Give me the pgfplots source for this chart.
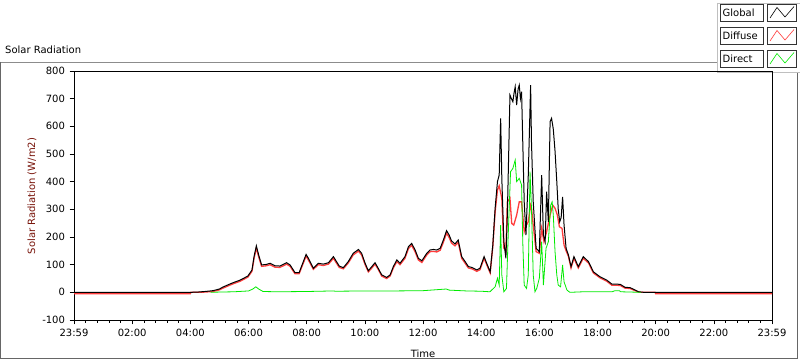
\documentclass[border=0pt]{standalone}
\usepackage{pgfplots}
\usepackage{pgfplotstable}
\pgfplotsset{compat=1.18}
\usepackage{fontspec}
\setmainfont{DejaVu Sans}
\definecolor{lvred}{RGB}{255,60,60}
\definecolor{lvgreen}{RGB}{0,235,0}
\definecolor{ylab}{RGB}{120,20,10}
\pgfplotstableread{
h v
0 0
4.0 0
4.26 1
4.5 3
4.78 6
5.0 12
5.12 19
5.36 30
5.5 36
5.71 44
5.98 59
6.12 81
6.19 129
6.27 168
6.35 135
6.45 99
6.62 101
6.74 105
6.91 96
7.08 95
7.31 107
7.43 99
7.60 71
7.74 71
7.98 137
8.06 123
8.23 87
8.40 105
8.57 102
8.75 107
8.92 129
9.12 95
9.26 89
9.43 111
9.60 141
9.78 155
9.89 141
10.01 105
10.12 78
10.24 93
10.35 107
10.46 87
10.58 63
10.75 54
10.87 63
10.98 93
11.10 117
11.21 105
11.38 129
11.50 165
11.61 177
11.73 153
11.84 123
11.96 114
12.13 141
12.24 153
12.36 155
12.47 153
12.59 159
12.70 189
12.81 223
12.90 207
12.98 186
13.10 175
13.21 189
13.33 129
13.45 111
13.56 93
13.68 90
13.85 81
13.96 87
14.10 129
14.19 105
14.31 74
14.40 171
14.48 304
14.56 400
14.62 424
14.67 629
14.71 412
14.78 183
14.85 123
14.90 279
14.99 713
15.04 700
15.09 689
15.13 720
15.17 743
15.22 677
15.27 735
15.31 749
15.35 700
15.39 725
15.43 544
15.48 327
15.54 207
15.62 424
15.70 749
15.73 544
15.79 327
15.89 159
16.00 147
16.08 424
16.14 207
16.20 183
16.25 364
16.31 255
16.37 617
16.42 629
16.48 590
16.54 510
16.60 400
16.65 300
16.70 255
16.75 270
16.80 345
16.85 243
16.92 159
17.00 135
17.09 93
17.19 129
17.34 93
17.51 129
17.69 111
17.86 74
18.09 56
18.32 44
18.49 30
18.78 29
18.95 18
19.12 17
19.18 14
19.41 2
19.60 0
24 0
}\globaltab
\pgfplotstableread{
h v
0 -5
4.0 -5
4.02 0
4.26 0
4.5 1
4.78 3
5.0 9
5.12 15
5.36 26
5.5 32
5.71 40
5.98 55
6.12 76
6.19 122
6.27 160
6.35 128
6.45 94
6.62 96
6.74 100
6.91 91
7.08 90
7.31 102
7.43 94
7.60 67
7.74 67
7.98 131
8.06 117
8.23 83
8.40 100
8.57 97
8.75 102
8.92 123
9.12 90
9.26 85
9.43 106
9.60 135
9.78 149
9.89 135
10.01 100
10.12 74
10.24 88
10.35 102
10.46 83
10.58 59
10.75 50
10.87 59
10.98 88
11.10 111
11.21 100
11.38 123
11.50 158
11.61 170
11.73 146
11.84 117
11.96 108
12.13 135
12.24 147
12.36 148
12.47 146
12.59 152
12.70 181
12.81 214
12.90 198
12.98 178
13.10 168
13.21 181
13.33 123
13.45 105
13.56 88
13.68 85
13.85 76
13.96 82
14.10 123
14.19 100
14.31 70
14.40 165
14.48 290
14.56 370
14.62 385
14.67 360
14.71 340
14.78 160
14.85 150
14.90 327
14.99 340
15.05 249
15.12 243
15.22 279
15.31 327
15.39 327
15.43 279
15.48 219
15.54 240
15.62 255
15.70 315
15.73 304
15.79 243
15.89 147
16.00 141
16.08 231
16.16 183
16.25 219
16.37 279
16.46 315
16.54 304
16.62 279
16.69 237
16.78 231
16.85 171
16.92 150
17.00 130
17.09 88
17.19 123
17.34 88
17.51 123
17.69 106
17.86 70
18.09 52
18.32 40
18.49 26
18.78 25
18.95 15
19.12 14
19.18 11
19.41 1
19.60 0
19.98 0
20.00 -5
24 -5
}\diffusetab
\pgfplotstableread{
h v
4.70 0
5.0 1
5.5 2
6.0 5
6.15 12
6.25 20
6.35 12
6.5 3
7.0 2
8.0 3
8.9 5
9.0 4
10.0 5
11.0 5
12.0 6
12.8 12
12.9 8
13.5 5
14.0 4
14.3 2
14.48 20
14.56 51
14.62 26
14.67 243
14.71 63
14.78 2
14.87 14
14.93 207
15.01 436
15.09 448
15.17 478
15.22 400
15.31 412
15.39 388
15.43 183
15.48 26
15.56 14
15.62 63
15.68 436
15.73 304
15.79 63
15.85 2
15.91 14
16.00 51
16.08 183
16.14 26
16.23 159
16.31 183
16.39 315
16.44 327
16.48 279
16.54 147
16.60 63
16.65 26
16.73 20
16.80 99
16.85 38
16.95 8
17.05 0
17.5 2
18.0 2
18.5 2
18.6 6
18.75 6
18.8 2
19.5 0
}\directtab
\begin{document}
\fontsize{10}{12}\selectfont
\begin{tikzpicture}[x=1pt,y=1pt]
\path[use as bounding box] (0,0) rectangle (800,361);
\fill[white] (0,0) rectangle (800,361);
% outer frame
\draw[black!45, line width=0.8pt] (0.5,299) -- (717,299);
\draw[black!60, line width=1pt] (0.5,299) -- (0.5,2) -- (797,2) -- (797,289);
% legend frame
\draw[black!25, line width=0.8pt] (717,358) -- (717,289) -- (800,289);
\draw[black!25, line width=0.8pt] (717,358) -- (800,358);
\node[anchor=west, inner sep=0pt] at (5,311) {Solar Radiation};
% legend entries
\foreach \yt/\lab/\col in {4/Global/black, 27/Diffuse/lvred, 50/Direct/lvgreen}{
  \draw[black!80, line width=0.7pt] (720.5,361-\yt) rectangle (763.5,361-\yt-17);
  \node[anchor=west, inner sep=0pt] at (722.5,361-\yt-8.5) {\lab};
  \draw[black!80, line width=0.7pt] (767.5,361-\yt) rectangle (796.5,361-\yt-17);
  \draw[\col, line width=0.6pt] (770,361-\yt-14) -- (777,361-\yt-3.5) -- (785,361-\yt-13) -- (794,361-\yt-2.5);
}
\begin{axis}[
  at={(74pt,41pt)}, anchor=south west,
  width=698pt, height=249pt, scale only axis,
  xmin=0, xmax=24, ymin=-100, ymax=800,
  axis line style={black, line width=0.8pt},
  xtick={0,2,...,24},
  xticklabels={23:59,02:00,04:00,06:00,08:00,10:00,12:00,14:00,16:00,18:00,20:00,22:00,23:59},
  minor x tick num=4,
  ytick={-100,0,100,200,300,400,500,600,700,800},
  yticklabels={-100,0,100,200,300,400,500,600,700,800},
  tick align=outside, xtick pos=bottom, ytick pos=left,
  major tick length=4.5pt, minor tick length=3pt,
  tick style={black, line width=0.6pt},
  ticklabel style={font=\fontsize{10}{12}\selectfont},
  xticklabel style={yshift=-1pt},
  yticklabel style={xshift=-1pt},
  clip=true,
]
\addplot[lvred, line width=1.3pt] table[x=h, y=v] {\diffusetab};
\addplot[black, line width=1pt] table[x=h, y=v] {\globaltab};
\addplot[lvgreen, line width=0.8pt] table[x=h, y=v] {\directtab};
\end{axis}
\node[rotate=90, text=ylab] at (32,165) {Solar Radiation (W/m2)};
\node at (423,7) {Time};
\end{tikzpicture}
\end{document}
